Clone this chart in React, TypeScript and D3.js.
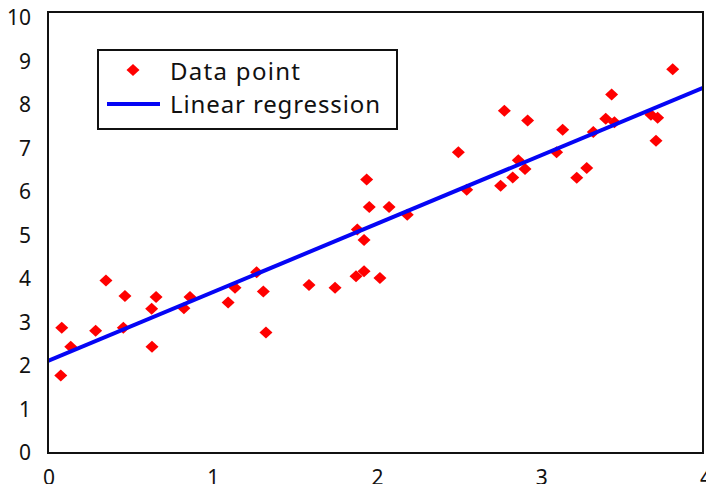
import React from "react";
import * as d3 from "d3";

// points
const xs = [
  0.078, 0.084, 0.139, 0.291, 0.354, 0.46, 0.47, 0.633, 0.66, 0.635,
  0.83, 0.867, 1.1, 1.142, 1.274, 1.315, 1.331, 1.594, 1.753, 1.881,
  1.93, 2.027, 1.889, 1.93, 1.946, 1.962, 2.083, 2.194, 2.506, 2.557,
  2.764, 2.838, 2.872, 2.913, 2.787, 2.929, 3.106, 3.143, 3.229, 3.29,
  3.33, 3.406, 3.442, 3.459, 3.682, 3.723, 3.713, 3.815
];
const ys = [
  1.76, 2.84, 2.41, 2.77, 3.91, 2.84, 3.56, 3.27, 3.54, 2.41,
  3.28, 3.54, 3.41, 3.75, 4.1, 3.66, 2.73, 3.81, 3.75, 4.01,
  4.12, 3.97, 5.07, 4.83, 6.2, 5.58, 5.58, 5.4, 6.82, 5.97,
  6.06, 6.25, 6.64, 6.44, 7.76, 7.54, 6.82, 7.33, 6.24, 6.46,
  7.28, 7.58, 8.13, 7.5, 7.67, 7.6, 7.08, 8.7
];
const fitX = [0, 4];
const fitY = [2.09, 8.28];
const xTicks = [0, 1, 2, 3, 4];
const yTicks = [0, 1, 2, 3, 4, 5, 6, 7, 8, 9, 10];
const legendLabels = ["Data point", "Linear regression"];

const W = 706;
const H = 484;
const margin = { left: 48, right: 3, top: 12, bottom: 31 };
const font = "'Noto Sans', 'Open Sans', sans-serif";

const diamond = (cx: number, cy: number) =>
  `M${cx},${cy - 6}L${cx + 6.5},${cy}L${cx},${cy + 6}L${cx - 6.5},${cy}Z`;

export default function App() {
  const x = d3.scaleLinear().domain([0, 4]).range([margin.left, W - margin.right]);
  const y = d3.scaleLinear().domain([0, 10]).range([H - margin.bottom, margin.top]);
  // tick labels sit a little off the frame in the original
  const yLab = d3.scaleLinear().domain([0, 10]).range([452, 17]);
  const xLab = d3.scaleLinear().domain([0, 4]).range([49, 706]);

  const line = d3
    .line<number>()
    .x((d) => x(fitX[d]))
    .y((d) => y(fitY[d]));

  return (
    <svg
      width={W}
      height={H}
      style={{ position: "absolute", left: 0, top: 0, background: "#fff" }}
    >
      <defs>
        <clipPath id="plot">
          <rect
            x={margin.left}
            y={margin.top}
            width={W - margin.left - margin.right}
            height={H - margin.top - margin.bottom}
          />
        </clipPath>
      </defs>

      <g clipPath="url(#plot)">
        {xs.map((d, i) => (
          <path key={i} d={diamond(x(d), y(ys[i]))} fill="#ff0000" />
        ))}
        <path d={line([0, 1]) || ""} stroke="#0505f5" strokeWidth={4} fill="none" />
      </g>

      <rect
        x={margin.left}
        y={margin.top}
        width={W - margin.left - margin.right}
        height={H - margin.top - margin.bottom}
        fill="none"
        stroke="#111"
        strokeWidth={2}
      />

      {yTicks.map((t) => (
        <text
          key={t}
          x={31}
          y={yLab(t)}
          textAnchor="end"
          dominantBaseline="central"
          fontFamily={font}
          fontSize={21}
          fill="#111"
        >
          {t}
        </text>
      ))}
      {xTicks.map((t) => (
        <text
          key={t}
          x={xLab(t)}
          y={477}
          textAnchor="middle"
          dominantBaseline="central"
          fontFamily={font}
          fontSize={21}
          fill="#111"
        >
          {t}
        </text>
      ))}

      <g>
        <rect x={98} y={50} width={299} height={79} fill="#fff" stroke="#111" strokeWidth={2} />
        <path d={diamond(133, 70)} fill="#ff0000" />
        <line x1={107} x2={160} y1={104} y2={104} stroke="#0505f5" strokeWidth={4} />
        {legendLabels.map((l, i) => (
          <text
            key={l}
            x={170}
            y={70 + i * 33}
            dominantBaseline="central"
            fontFamily={font}
            fontSize={24}
            textLength={i === 0 ? 130 : 210}
            lengthAdjust="spacing"
            fill="#111"
          >
            {l}
          </text>
        ))}
      </g>
    </svg>
  );
}
